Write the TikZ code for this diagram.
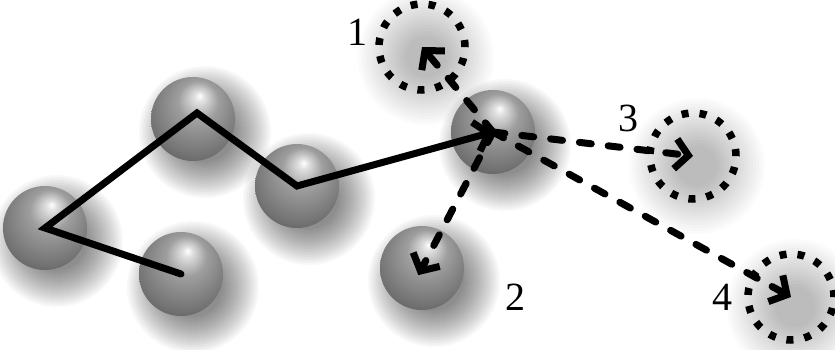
\documentclass[tikz,border=0pt]{standalone}
\usepackage{fontspec}
\setmainfont{Liberation Serif}
\usetikzlibrary{arrows.meta}

% grey ball with the highlight a little above and right of the middle
\pgfdeclareradialshading{ballgrey}{\pgfpoint{4bp}{14bp}}{%
  color(0bp)=(white); color(3bp)=(white!88!black);
  color(12bp)=(black!38); color(28bp)=(black!55); color(40bp)=(black!72);
  color(50bp)=(black!92)}

\begin{document}
\begin{tikzpicture}[x=1pt,y=1pt,
  ball/.style={circle, minimum size=84pt, inner sep=0pt, shade, shading=ballgrey},
  ring/.style={circle, minimum size=86pt, inner sep=0pt, draw=black,
    line width=7.5pt, dash pattern=on 7pt off 11pt},
  chainline/.style={line width=7pt, line cap=round,
    -{Straight Barb[length=13pt,width=30pt]}},
  moveline/.style={line width=7pt, line cap=round, dash pattern=on 12pt off 17pt,
    -{Straight Barb[length=13pt,width=30pt]}},
  num/.style={font=\fontsize{40}{40}\selectfont, inner sep=0pt},
  haze/.style={fill=black, opacity=0.028}
]
\useasboundingbox (0,0) rectangle (835,349);
\fill[white] (0,0) rectangle (835,349);

% positions
\coordinate (pA) at (45,121);
\coordinate (pB) at (193,230);
\coordinate (pC) at (297,163);
\coordinate (pD) at (181,75);
\coordinate (pE) at (493,217);
\coordinate (pF) at (422,81);
\coordinate (p1) at (422,302);
\coordinate (p3) at (693,193);
\coordinate (p4) at (791,52);

% soft drop shadows: stacked faint discs
\foreach \p in {pA,pB,pC,pD,pE,pF}
  \foreach \r in {30,32,...,66}
    \fill[haze] ([shift={(12pt,-13pt)}]\p) circle (\r pt);
\foreach \p in {p1,p3,p4}
  \foreach \r in {20,23,...,68}
    \fill[haze, opacity=0.016] ([shift={(4pt,-10pt)}]\p) circle (\r pt);

% spheres
\node[ball] (A) at (pA) {};
\node[ball] (B) at (pB) {};
\node[ball] (C) at (pC) {};
\node[ball] (D) at (pD) {};
\node[ball] (E) at (pE) {};
\node[ball] (F) at (pF) {};

% dotted target places
\node[ring] (T1) at (p1) {};
\node[ring] (T3) at (p3) {};
\node[ring] (T4) at (p4) {};

% chain
\draw[chainline] (D.center) -- (A.center) -- ([shift={(4pt,6pt)}]B.center)
  -- (C.center) -- (E.center);

% possible moves
\draw[moveline] (E.center) -- (T1.center);
\draw[moveline, shorten >=-8pt] (E.center) -- (F.center);
\draw[moveline] (E.center) -- (T3.center);
\draw[moveline] (E.center) -- (T4.center);

% labels
\node[num] (n1) at (357,317) {1};
\node[num] (n2) at (515,52) {2};
\node[num] (n3) at (628,231) {3};
\node[num] (n4) at (722,52) {4};
\end{tikzpicture}
\end{document}
